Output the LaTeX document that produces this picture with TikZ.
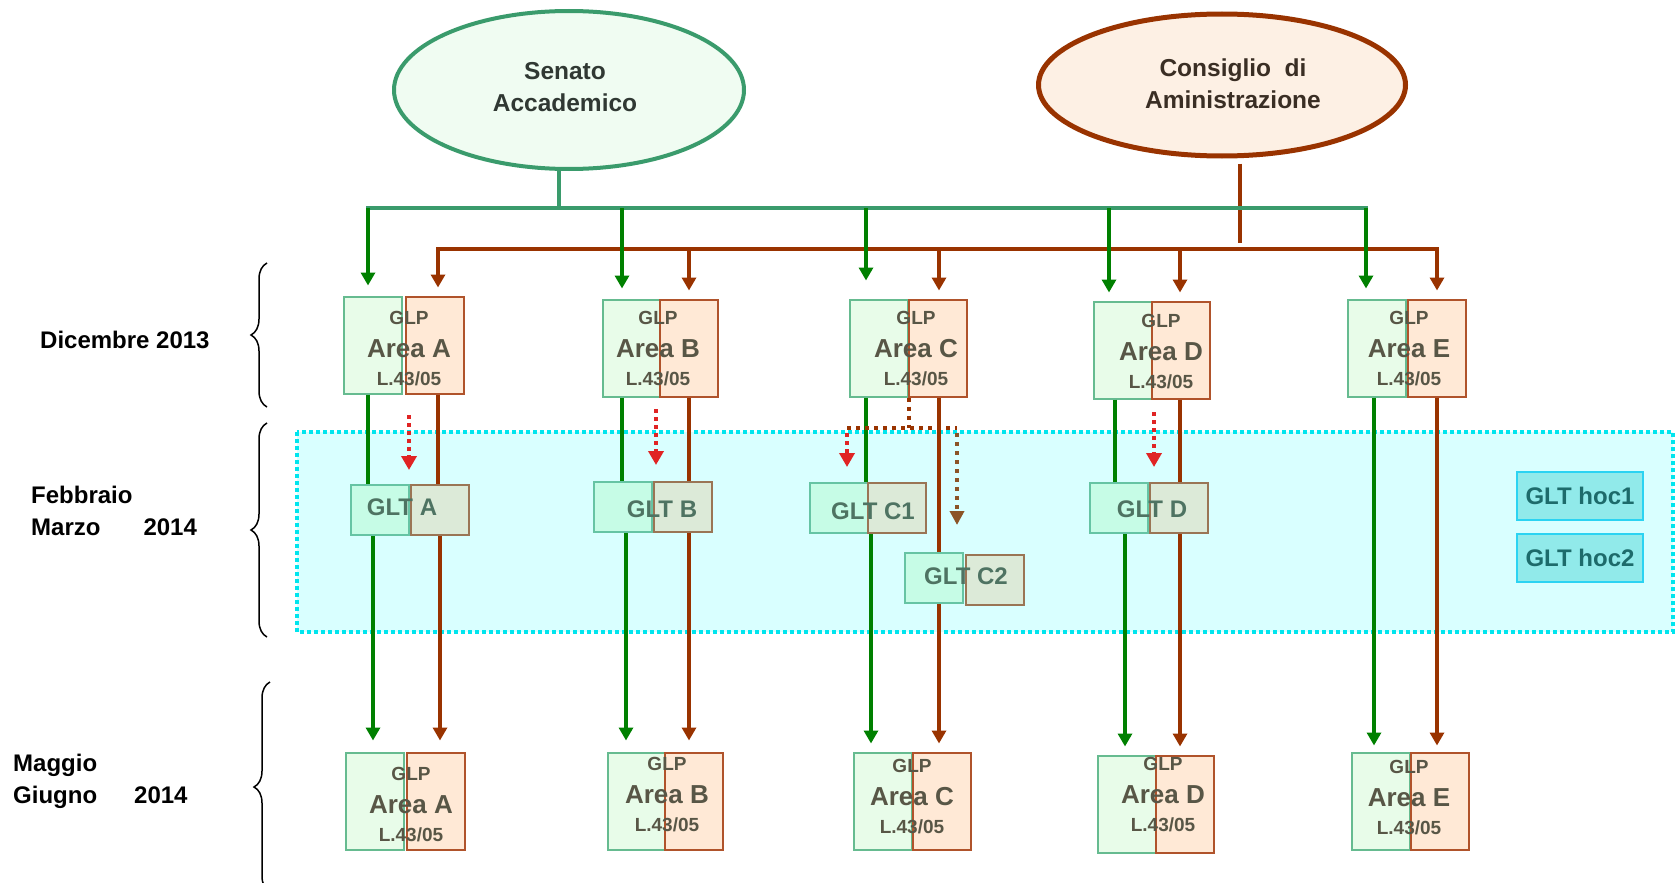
\documentclass[tikz,border=0pt]{standalone}
\usepackage{fontspec}
\setmainfont{Liberation Sans}
\usetikzlibrary{arrows.meta,shapes.geometric,decorations.pathreplacing}

\definecolor{senline}{HTML}{3A9B6C}
\definecolor{senfill}{HTML}{F0FCF2}
\definecolor{sentxt}{HTML}{303833}
\definecolor{cdaline}{HTML}{993300}
\definecolor{cdafill}{HTML}{FDF0E4}
\definecolor{cdatxt}{HTML}{3A2E24}
\definecolor{dkgreen}{HTML}{008000}
\definecolor{glpgline}{HTML}{66BB90}
\definecolor{glpgfill}{HTML}{E8FCE9}
\definecolor{glpbline}{HTML}{B0532B}
\definecolor{glpbfill}{HTML}{FFE9D6}
\definecolor{glptxt}{HTML}{585646}
\definecolor{gltgline}{HTML}{66C4A4}
\definecolor{gltgfill}{HTML}{C6FCE6}
\definecolor{gltbline}{HTML}{9A7555}
\definecolor{gltbfill}{HTML}{DCEAD8}
\definecolor{glttxt}{HTML}{4E7362}
\definecolor{bandfill}{HTML}{D9FFFF}
\definecolor{bandline}{HTML}{00E5EE}
\definecolor{hocfill}{HTML}{91EAEA}
\definecolor{hocline}{HTML}{2BD3F2}
\definecolor{hoctxt}{HTML}{1D6B6B}
\definecolor{dotred}{HTML}{E02424}
\definecolor{dotbrown}{HTML}{8B5426}

\newcommand{\areafont}{\fontsize{26}{30}\selectfont}

\begin{document}
\begin{tikzpicture}[x=1pt, y=-1pt,
    boss/.style={ellipse, line width=4pt, minimum width=350pt, minimum height=158pt},
    bosstext/.style={align=center, inner sep=0pt, font=\fontsize{24.5}{32}\selectfont\bfseries},
    glpg/.style={draw=glpgline, fill=glpgfill, line width=2pt, minimum width=58pt, minimum height=97pt, inner sep=0pt},
    glpb/.style={glpg, draw=glpbline, fill=glpbfill},
    glptext/.style={align=center, text=glptxt, inner sep=0pt, font=\fontsize{19}{30}\selectfont\bfseries},
    gltg/.style={draw=gltgline, fill=gltgfill, line width=2pt, minimum width=58pt, minimum height=50pt, inner sep=0pt},
    gltb/.style={gltg, draw=gltbline, fill=gltbfill},
    glttext/.style={text=glttxt, inner sep=0pt, font=\fontsize{24}{28}\selectfont\bfseries},
    hoc/.style={draw=hocline, fill=hocfill, line width=2pt, minimum width=126pt, minimum height=48pt, text=hoctxt, font=\fontsize{24}{28}\selectfont\bfseries},
    period/.style={anchor=west, align=left, inner sep=0pt, font=\fontsize{24}{32}\selectfont\bfseries},
    band/.style={fill=bandfill, draw=bandline, line width=4pt, dash pattern=on 4pt off 3pt},
    gbusline/.style={draw=senline, line width=4pt, line cap=rect},
    bbusline/.style={draw=cdaline, line width=4pt, line cap=rect},
    gline/.style={draw=dkgreen, line width=4pt},
    bline/.style={draw=cdaline, line width=4pt},
    garrow/.style={gline, -{Triangle[width=14pt,length=13pt]}},
    barrow/.style={bline, -{Triangle[width=14pt,length=13pt]}},
    reddot/.style={draw=dotred, line width=3.5pt, dash pattern=on 4pt off 4pt, -{Triangle[width=15pt,length=14pt]}},
    browndot/.style={draw=cdaline, line width=4pt, dash pattern=on 4pt off 5pt},
    brace/.style={decorate, decoration={brace, amplitude=16pt}, line width=1.5pt}
  ]
  \useasboundingbox (0,0) rectangle (1676,883);

  % fase Febbraio - Marzo
  \draw[band] (297,432) rectangle (1673,632);

  % organi
  \node[boss, draw=senline, fill=senfill] (sen) at (569,90) {};
  \node[bosstext, text=sentxt] (tsen) at (565,87) {Senato\\Accademico};
  \node[boss, draw=cdaline, fill=cdafill, line width=5pt, minimum width=367pt, minimum height=142pt] (cda) at (1222,85) {};
  \node[bosstext, text=cdatxt] (tcda) at (1233,84) {Consiglio~ di\\Aministrazione};

  % periodi
  \node[period] (dic) at (40,340) {Dicembre 2013};
  \node[period] (feb) at (31,511) {Febbraio\\Marzo\hspace{43pt}2014};
  \node[period] (mag) at (13,781) {Maggio\\Giugno\hspace{37pt}2014};
  \draw[brace] (267,407) -- (267,263);
  \draw[brace] (267,637) -- (267,423);
  \draw[brace] (270,892) -- (270,682);

  % GLP dicembre
  \node[glpg] (dicAg) at (373,345) {};
  \node[glpb] (dicAb) at (435,345) {};
  \node[glptext] (tdicA) at (409,349) {GLP\\[3pt]{\areafont Area A}\\[-2pt]L.43/05};
  \node[glpg] (dicBg) at (632,348) {};
  \node[glpb] (dicBb) at (689,348) {};
  \node[glptext] (tdicB) at (658,349) {GLP\\[3pt]{\areafont Area B}\\[-2pt]L.43/05};
  \node[glpg] (dicCg) at (879,348) {};
  \node[glpb] (dicCb) at (938,348) {};
  \node[glptext] (tdicC) at (916,349) {GLP\\[3pt]{\areafont Area C}\\[-2pt]L.43/05};
  \node[glpg] (dicDg) at (1123,350) {};
  \node[glpb] (dicDb) at (1181,350) {};
  \node[glptext] (tdicD) at (1161,352) {GLP\\[3pt]{\areafont Area D}\\[-2pt]L.43/05};
  \node[glpg] (dicEg) at (1377,348) {};
  \node[glpb] (dicEb) at (1437,348) {};
  \node[glptext] (tdicE) at (1409,349) {GLP\\[3pt]{\areafont Area E}\\[-2pt]L.43/05};

  % GLT
  \node[gltg] (gltAg) at (380,510) {};
  \node[gltb] (gltAb) at (440,510) {};
  \node[glttext] (tgltA) at (402,507) {GLT A};
  \node[gltg] (gltBg) at (623,507) {};
  \node[gltb] (gltBb) at (683,507) {};
  \node[glttext] (tgltB) at (662,509) {GLT B};
  \node[gltg] (gltC1g) at (839,508) {};
  \node[gltb] (gltC1b) at (897,508) {};
  \node[glttext] (tgltC1) at (873,511) {GLT C1};
  \node[gltg] (gltC2g) at (934,578) {};
  \node[gltb] (gltC2b) at (995,580) {};
  \node[glttext] (tgltC2) at (966,576) {GLT C2};
  \node[gltg] (gltDg) at (1119,508) {};
  \node[gltb] (gltDb) at (1179,508) {};
  \node[glttext] (tgltD) at (1152,509) {GLT D};
  \node[hoc] (hoc1) at (1580,496) {GLT hoc1};
  \node[hoc] (hoc2) at (1580,558) {GLT hoc2};

  % GLP maggio
  \node[glpg] (magAg) at (375,801) {};
  \node[glpb] (magAb) at (436,801) {};
  \node[glptext] (tmagA) at (411,805) {GLP\\[3pt]{\areafont Area A}\\[-2pt]L.43/05};
  \node[glpg] (magBg) at (637,801) {};
  \node[glpb] (magBb) at (694,801) {};
  \node[glptext] (tmagB) at (667,795) {GLP\\[3pt]{\areafont Area B}\\[-2pt]L.43/05};
  \node[glpg] (magCg) at (883,801) {};
  \node[glpb] (magCb) at (942,801) {};
  \node[glptext] (tmagC) at (912,797) {GLP\\[3pt]{\areafont Area C}\\[-2pt]L.43/05};
  \node[glpg] (magDg) at (1127,804) {};
  \node[glpb] (magDb) at (1185,804) {};
  \node[glptext] (tmagD) at (1163,795) {GLP\\[3pt]{\areafont Area D}\\[-2pt]L.43/05};
  \node[glpg] (magEg) at (1381,801) {};
  \node[glpb] (magEb) at (1440,801) {};
  \node[glptext] (tmagE) at (1409,798) {GLP\\[3pt]{\areafont Area E}\\[-2pt]L.43/05};

  % colonne
  \coordinate (gbus) at (559,208);
  \coordinate (bbus) at (1240,249);
  \coordinate (xgA) at (368,0);  \coordinate (xgA2) at (373,0);
  \coordinate (xbA) at (438,0);  \coordinate (xbA2) at (440,0);
  \coordinate (xgB) at (622,0);  \coordinate (xgB2) at (626,0);
  \coordinate (xbB) at (689,0);
  \coordinate (xgC) at (866,0);  \coordinate (xgC2) at (871,0);
  \coordinate (xbC) at (939,0);
  \coordinate (xgD) at (1109,0); \coordinate (xgD1) at (1115,0); \coordinate (xgD2) at (1125,0);
  \coordinate (xbD) at (1180,0);
  \coordinate (xgE) at (1366,0); \coordinate (xgE2) at (1374,0);
  \coordinate (xbE) at (1437,0);

  % linee dagli organi
  \draw[bbusline] (xbA |- bbus) -- (xbE |- bbus);
  \draw[bline, shorten <=5pt, shorten >=6pt] (cda.south -| bbus) -- (bbus);
  \draw[gbusline] (xgA |- gbus) -- (xgE |- gbus);
  \draw[gbusline] (sen.south -| gbus) -- (gbus);
  \draw[barrow, shorten >=8pt] (xbA |- bbus) -- (xbA |- dicAb.north);
  \draw[barrow, shorten >=8pt] (xbB |- bbus) -- (xbB |- dicBb.north);
  \draw[barrow, shorten >=8pt] (xbC |- bbus) -- (xbC |- dicCb.north);
  \draw[barrow, shorten >=8pt] (xbD |- bbus) -- (xbD |- dicDb.north);
  \draw[barrow, shorten >=8pt] (xbE |- bbus) -- (xbE |- dicEb.north);
  \draw[garrow, shorten >=10pt] (xgA |- gbus) -- (xgA |- dicAg.north);
  \draw[garrow, shorten >=10pt] (xgB |- gbus) -- (xgB |- dicBg.north);
  \draw[garrow, shorten >=18pt] (xgC |- gbus) -- (xgC |- dicCg.north);
  \draw[garrow, shorten >=8pt] (xgD |- gbus) -- (xgD |- dicDg.north);
  \draw[garrow, shorten >=10pt] (xgE |- gbus) -- (xgE |- dicEg.north);

  % dicembre -> GLT
  \draw[gline] (xgA |- dicAg.south) -- (xgA |- gltAg.north);
  \draw[bline] (xbA |- dicAb.south) -- (xbA |- gltAb.north);
  \draw[gline] (xgB |- dicBg.south) -- (xgB |- gltBg.north);
  \draw[bline] (xbB |- dicBb.south) -- (xbB |- gltBb.north);
  \draw[gline] (xgC |- dicCg.south) -- (xgC |- gltC1g.north);
  \draw[bline] (xbC |- dicCb.south) -- (xbC |- gltC2g.north);
  \draw[gline] (xgD1 |- dicDg.south) -- (xgD1 |- gltDg.north);
  \draw[bline] (xbD |- dicDb.south) -- (xbD |- gltDb.north);

  % GLT -> maggio
  \draw[garrow, shorten >=11pt] (xgA2 |- gltAg.south) -- (xgA2 |- magAg.north);
  \draw[barrow, shorten >=11pt] (xbA2 |- gltAb.south) -- (xbA2 |- magAb.north);
  \draw[garrow, shorten >=11pt] (xgB2 |- gltBg.south) -- (xgB2 |- magBg.north);
  \draw[barrow, shorten >=11pt] (xbB |- gltBb.south) -- (xbB |- magBb.north);
  \draw[garrow, shorten >=8pt] (xgC2 |- gltC1g.south) -- (xgC2 |- magCg.north);
  \draw[barrow, shorten >=8pt] (xbC |- gltC2g.south) -- (xbC |- magCb.north);
  \draw[garrow, shorten >=8pt] (xgD2 |- gltDg.south) -- (xgD2 |- magDg.north);
  \draw[barrow, shorten >=8pt] (xbD |- gltDb.south) -- (xbD |- magDb.north);
  \draw[garrow, shorten >=6pt] (xgE2 |- dicEg.south) -- (xgE2 |- magEg.north);
  \draw[barrow, shorten >=6pt] (xbE |- dicEb.south) -- (xbE |- magEb.north);

  % tratteggi
  \coordinate (rA1) at (409,415);  \coordinate (rA2) at (409,470);
  \coordinate (rB1) at (656,409);  \coordinate (rB2) at (656,465);
  \coordinate (rD1) at (1154,412); \coordinate (rD2) at (1154,467);
  \coordinate (cLeft) at (847,428); \coordinate (cRight) at (957,428);
  \coordinate (cRedEnd) at (847,467); \coordinate (cBrownEnd) at (957,525);
  \draw[reddot] (rA1) -- (rA2);
  \draw[reddot] (rB1) -- (rB2);
  \draw[reddot] (rD1) -- (rD2);
  \draw[browndot] (dicCg.south east) -- (dicCg.south east |- cLeft);
  \draw[browndot] (cLeft) -- (cRight);
  \draw[reddot, shorten <=5pt] (cLeft) -- (cRedEnd);
  \draw[browndot, draw=dotbrown, shorten <=5pt, -{Triangle[width=14pt,length=14pt]}] (cRight) -- (cBrownEnd);
\end{tikzpicture}
\end{document}
